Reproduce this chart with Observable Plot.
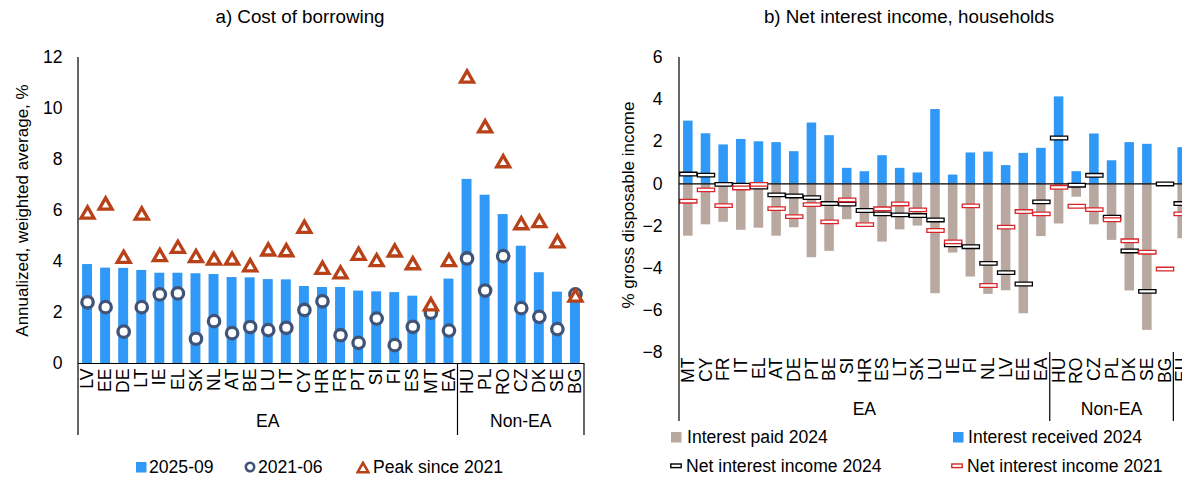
<!DOCTYPE html>
<html>
<head>
<meta charset="utf-8">
<script src="https://cdn.jsdelivr.net/npm/d3@7"></script>
<script src="https://cdn.jsdelivr.net/npm/@observablehq/plot@0.6"></script>
<style>
  html, body { margin: 0; padding: 0; background: #fff; overflow: hidden; width: 1182px; height: 477px; }
  body { position: relative; font-family: "Liberation Sans", Arial, sans-serif; color: #000; }
  .panel { position: absolute; top: 0; height: 477px; }
  .title { position: absolute; top: 6px; font-size: 18.8px; line-height: 22px; white-space: nowrap; transform: translateX(-50%); }
  .chart { position: absolute; top: 35px; left: 0; }
  .item { position: absolute; font-size: 17.6px; line-height: 20px; white-space: nowrap; transform: translateY(-50%); display: flex; align-items: center; }
  .item svg { display: block; }
</style>
</head>
<body>
<div class="panel" id="left" style="left:0;width:590px;">
  <div class="title" style="left:300px;">a) Cost of borrowing</div>
  <div class="chart" id="chartA"></div>
</div>
<div class="panel" id="right" style="left:590px;width:606px;">
  <div class="title" style="left:319px;">b) Net interest income, households</div>
  <div class="chart" id="chartB"></div>
</div>
<div id="legends"></div>
<script>
// ---- a) Cost of borrowing: annualized weighted average rate, % ----
const BORROW_COUNTRIES = ["LV","EE","DE","LT","IE","EL","SK","NL","AT","BE","LU","IT","CY","HR","FR","PT","SI","FI","ES","MT","EA","HU","PL","RO","CZ","DK","SE","BG"];
const BORROW_GROUP = ["EA","EA","EA","EA","EA","EA","EA","EA","EA","EA","EA","EA","EA","EA","EA","EA","EA","EA","EA","EA","EA","Non-EA","Non-EA","Non-EA","Non-EA","Non-EA","Non-EA","Non-EA"];
const RATE_2025_09 = [3.88,3.74,3.73,3.65,3.54,3.54,3.52,3.49,3.37,3.36,3.29,3.28,3.02,2.98,2.98,2.84,2.81,2.78,2.64,2.10,3.31,7.22,6.60,5.84,4.60,3.56,2.80,2.65];
const RATE_2021_06 = [2.40,2.21,1.25,2.21,2.71,2.75,0.97,1.66,1.19,1.43,1.31,1.40,2.10,2.44,1.11,0.81,1.76,0.72,1.44,1.99,1.29,4.12,2.86,4.21,2.17,1.83,1.35,2.71];
const RATE_PEAK = [5.91,6.26,4.17,5.87,4.24,4.56,4.20,4.10,4.10,3.84,4.46,4.43,5.35,3.74,3.56,4.29,4.04,4.42,3.92,2.31,4.04,11.24,9.29,7.92,5.49,5.57,4.78,2.65];
const BORROW_TICKS = [0, 2, 4, 6, 8, 10, 12];

// ---- b) Net interest income of households, % of gross disposable income ----
const NII_COUNTRIES = ["MT","CY","FR","IT","EL","AT","DE","PT","BE","SI","HR","ES","LT","SK","LU","IE","FI","NL","LV","EE","EA","HU","RO","CZ","PL","DK","SE","BG","EU"];
// the trailing aggregate forms its own, unnamed group
const NII_GROUP = ["EA","EA","EA","EA","EA","EA","EA","EA","EA","EA","EA","EA","EA","EA","EA","EA","EA","EA","EA","EA","EA","Non-EA","Non-EA","Non-EA","Non-EA","Non-EA","Non-EA","Non-EA",""];
const RECEIVED_2024 = [2.98,2.38,1.85,2.11,2.00,1.96,1.53,2.89,2.29,0.74,0.58,1.34,0.74,0.52,3.53,0.42,1.47,1.51,0.87,1.45,1.69,4.13,0.58,2.37,1.10,1.96,1.88,null,1.72];
const PAID_2024 = [-2.48,-1.94,-1.82,-2.20,-2.10,-2.48,-2.08,-3.50,-3.20,-1.70,-1.84,-2.76,-2.18,-2.00,-5.21,-3.28,-4.42,-5.24,-5.07,-6.16,-2.50,-1.90,-0.63,-1.94,-2.68,-5.08,-6.95,null,-2.60];
const NET_2024 = [0.47,0.42,-0.02,-0.06,-0.15,-0.52,-0.57,-0.65,-0.93,-0.96,-1.26,-1.42,-1.47,-1.50,-1.71,-2.89,-2.98,-3.77,-4.21,-4.75,-0.85,2.18,-0.06,0.41,-1.58,-3.18,-5.10,0.00,-0.93];
const NET_2021 = [-0.82,-0.28,-1.03,-0.19,-0.02,-1.17,-1.55,-0.98,-1.80,-0.76,-1.93,-1.18,-0.95,-1.23,-2.21,-2.75,-1.04,-4.82,-2.05,-1.31,-1.42,-0.16,-1.06,-1.22,-1.70,-2.70,-3.24,-4.04,-1.42];
const NII_TICKS = [-8, -6, -4, -2, 0, 2, 4, 6];

const COLORS = {
  latest: "#3098f6", start: "#405478", peak: "#b84118",
  paid: "#b8a8a0", received: "#3098f6", net2024: "#000000", net2021: "#d9262b"
};
const FONT = "'Liberation Sans', Arial, sans-serif";
const FS = 17.6;

const borrowRows = BORROW_COUNTRIES.map((c, i) => ({
  country: c, group: BORROW_GROUP[i], latest: RATE_2025_09[i], start: RATE_2021_06[i], peak: RATE_PEAK[i]
}));
const niiRows = NII_COUNTRIES.map((c, i) => ({
  country: c, group: NII_GROUP[i], received: RECEIVED_2024[i], paid: PAID_2024[i], net24: NET_2024[i], net21: NET_2021[i]
}));

// flat box marker used for net interest income
const netBox = { draw(ctx) { ctx.rect(-8.6, -1.8, 17.2, 3.6); } };

// draws the left axis line, the group dividers and group names under the category labels
function drawGroups(chart, cats, groups, baseValue, depth, labelOffset) {
  const x = chart.scale("x"), y = chart.scale("y");
  const gap = (x.step - x.bandwidth) / 2;
  const spans = [];
  cats.forEach((c, i) => {
    const x1 = x.apply(c) - gap, x2 = x.apply(c) + x.bandwidth + gap;
    const last = spans[spans.length - 1];
    if (last && last.name === groups[i]) last.x2 = x2;
    else spans.push({ name: groups[i], x1, x2 });
  });
  const yBase = y.apply(baseValue);
  const yTop = y.apply(Math.max(...y.domain));
  const g = d3.select(chart).append("g").attr("stroke", "#000").attr("stroke-width", 1.2);
  g.append("line").attr("x1", spans[0].x1).attr("x2", spans[0].x1).attr("y1", yTop).attr("y2", yBase + depth);
  spans.forEach(s => {
    g.append("line").attr("x1", s.x2).attr("x2", s.x2).attr("y1", yBase).attr("y2", yBase + depth);
    if (!s.name) return;
    d3.select(chart).append("text")
      .attr("x", (s.x1 + s.x2) / 2).attr("y", yBase + labelOffset)
      .attr("text-anchor", "middle").attr("dominant-baseline", "middle")
      .attr("font-family", FONT).attr("font-size", FS).attr("fill", "#000")
      .text(s.name);
  });
}

const chartA = Plot.plot({
  width: 590, height: 410,
  marginTop: 22, marginLeft: 78, marginRight: 6, marginBottom: 82,
  style: { fontFamily: FONT, fontSize: FS + "px", color: "#000", background: "transparent", overflow: "visible" },
  x: { domain: BORROW_COUNTRIES, paddingInner: 0.45, paddingOuter: 0.225, round: false, label: null, tickSize: 0, tickPadding: 5, tickRotate: -90 },
  y: { domain: [0, 12], ticks: BORROW_TICKS, tickSize: 0, tickPadding: 16, label: null },
  marks: [
    Plot.barY(borrowRows, { x: "country", y1: 0, y2: "latest", fill: COLORS.latest }),
    Plot.ruleY([0], { stroke: "#000", strokeWidth: 1.2 }),
    Plot.dot(borrowRows, { x: "country", y: "start", r: 5.7, stroke: COLORS.start, strokeWidth: 3.3, fill: "#fff" }),
    Plot.dot(borrowRows, { x: "country", y: "peak", symbol: "triangle", r: 4.8, dy: 1.5, stroke: COLORS.peak, strokeWidth: 3.3, strokeLinejoin: "miter", fill: "#fff" }),
    Plot.text(["Annualized, weighted average, %"], { frameAnchor: "left", textAnchor: "middle", lineAnchor: "middle", rotate: -90, dx: -56, fontSize: 17, fill: "#000" })
  ]
});
drawGroups(chartA, BORROW_COUNTRIES, BORROW_GROUP, 0, 72, 59);
document.getElementById("chartA").append(chartA);

const chartB = Plot.plot({
  width: 606, height: 395,
  marginTop: 22, marginLeft: 89, marginRight: 5, marginBottom: 78,
  style: { fontFamily: FONT, fontSize: FS + "px", color: "#000", background: "transparent", overflow: "visible" },
  x: { domain: NII_COUNTRIES, paddingInner: 0.46, paddingOuter: 0.23, round: false, label: null, tickSize: 0, tickPadding: 5, tickRotate: -90 },
  y: { domain: [-8, 6], ticks: NII_TICKS, tickSize: 0, tickPadding: 17, label: null },
  marks: [
    Plot.barY(niiRows, { x: "country", y1: 0, y2: "paid", fill: COLORS.paid }),
    Plot.barY(niiRows, { x: "country", y1: 0, y2: "received", fill: COLORS.received }),
    Plot.ruleY([0], { stroke: "#000", strokeWidth: 1.2 }),
    Plot.dot(niiRows, { x: "country", y: "net24", symbol: netBox, stroke: COLORS.net2024, strokeWidth: 1.3, fill: "#fff" }),
    Plot.dot(niiRows, { x: "country", y: "net21", symbol: netBox, stroke: COLORS.net2021, strokeWidth: 1.3, fill: "#fff" }),
    Plot.text(["% gross disposable income"], { frameAnchor: "left", textAnchor: "middle", lineAnchor: "middle", rotate: -90, dx: -51, fontSize: 17, fill: "#000" })
  ]
});
drawGroups(chartB, NII_COUNTRIES, NII_GROUP, -8, 69, 58);
document.getElementById("chartB").append(chartB);

// legends
const swatch = {
  square: c => `<svg width="11" height="11"><rect x="0" y="0" width="10.5" height="10.5" fill="${c}"/></svg>`,
  circle: c => `<svg width="12" height="12"><circle cx="6" cy="6" r="4.2" fill="#fff" stroke="${c}" stroke-width="2.6"/></svg>`,
  triangle: c => `<svg width="14" height="13"><path d="M7,1.8 L12.4,11.2 L1.6,11.2 Z" fill="#fff" stroke="${c}" stroke-width="2.6" stroke-linejoin="miter"/></svg>`,
  box: c => `<svg width="12" height="6"><rect x="0.8" y="1" width="10.4" height="3.6" fill="#fff" stroke="${c}" stroke-width="1.4"/></svg>`
};
const LEGEND = [
  { x: 136, y: 467, icon: swatch.square(COLORS.latest), gap: 2, text: "2025-09" },
  { x: 244, y: 467, icon: swatch.circle(COLORS.start), gap: 2, text: "2021-06" },
  { x: 356, y: 467, icon: swatch.triangle(COLORS.peak), gap: 3, text: "Peak since 2021" },
  { x: 671, y: 437, icon: swatch.square(COLORS.paid), gap: 5, text: "Interest paid 2024" },
  { x: 953, y: 437, icon: swatch.square(COLORS.received), gap: 4, text: "Interest received 2024" },
  { x: 670, y: 466, icon: swatch.box(COLORS.net2024), gap: 4, text: "Net interest income 2024" },
  { x: 951, y: 466, icon: swatch.box(COLORS.net2021), gap: 4, text: "Net interest income 2021" }
];
const legends = document.getElementById("legends");
LEGEND.forEach(d => {
  const el = document.createElement("div");
  el.className = "item";
  el.style.left = d.x + "px";
  el.style.top = d.y + "px";
  el.innerHTML = `${d.icon}<span style="margin-left:${d.gap}px">${d.text}</span>`;
  legends.append(el);
});
</script>
</body>
</html>
